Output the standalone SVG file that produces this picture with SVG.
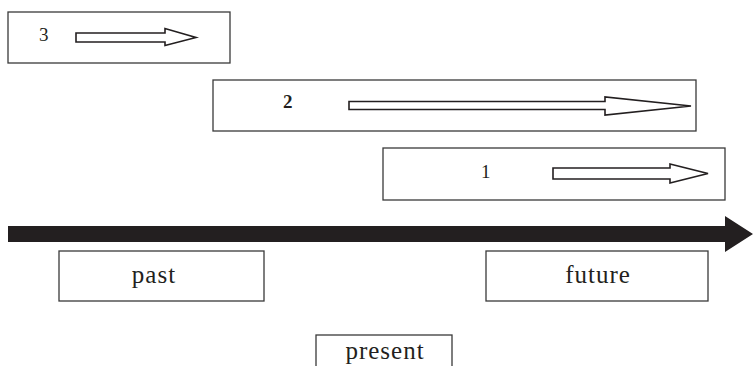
<svg xmlns="http://www.w3.org/2000/svg" width="753" height="366" viewBox="0 0 753 366">
  <style>
    .box { fill: #ffffff; stroke: #3a3a3a; stroke-width: 1.3; }
    .arr { fill: #ffffff; stroke: #231f20; stroke-width: 1.6; stroke-linejoin: miter; }
    .num { font-family: "Liberation Serif", "DejaVu Serif", serif; font-size: 19px; fill: #231f20; }
    .lbl { font-family: "Liberation Serif", "DejaVu Serif", serif; font-size: 25px; letter-spacing: 1px; fill: #231f20; text-anchor: middle; }
  </style>
  <rect width="753" height="366" fill="#ffffff"/>

  <!-- time span 3 -->
  <g id="span3">
    <rect class="box" x="8" y="12" width="222" height="51"/>
    <text class="num" x="39" y="41">3</text>
    <path class="arr" d="M76,33 H165 V28.5 L196,37.5 L165,45.5 V42 H76 Z"/>
  </g>

  <!-- time span 2 -->
  <g id="span2">
    <rect class="box" x="213" y="80" width="483" height="51"/>
    <text class="num" x="283" y="108" font-weight="bold">2</text>
    <path class="arr" d="M349,101.5 H605 V97 L691,106 L605,115 V109.5 H349 Z"/>
  </g>

  <!-- time span 1 -->
  <g id="span1">
    <rect class="box" x="383" y="148" width="342" height="52"/>
    <text class="num" x="481" y="178">1</text>
    <path class="arr" d="M553,168 H670 V164 L708,173.5 L670,183 V179 H553 Z"/>
  </g>

  <!-- time axis -->
  <g id="connectors">
    <path d="M8,226 H725 V216 L753,234 L725,252 V242 H8 Z" fill="#231f20"/>
  </g>

  <g id="past">
    <rect class="box" x="59" y="251" width="205" height="50"/>
    <text class="lbl" x="154" y="283">past</text>
  </g>

  <g id="future">
    <rect class="box" x="486" y="251" width="222" height="50"/>
    <text class="lbl" x="598" y="283">future</text>
  </g>

  <g id="present">
    <rect class="box" x="316" y="335" width="136" height="40"/>
    <text class="lbl" x="385" y="359" font-size="22">present</text>
  </g>
</svg>
